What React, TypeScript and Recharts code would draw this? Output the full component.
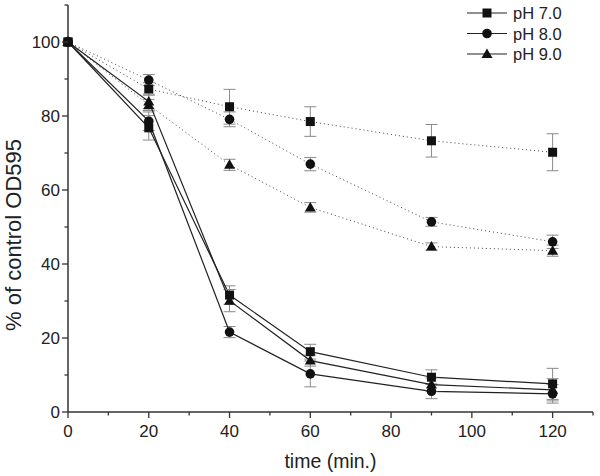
import React from 'react';
import { LineChart, Line, XAxis, YAxis, ErrorBar, Legend } from 'recharts';

// time points (min.)
const times = [0, 20, 40, 60, 90, 120];

// solid lines (treated)
const ph7 = [100, 76.8, 31.6, 16.3, 9.4, 7.6];
const ph7Err = [0, 3.3, 2.5, 2.0, 2.0, 4.2];
const ph8 = [100, 78.6, 21.6, 10.3, 5.6, 4.9];
const ph8Err = [0, 2.5, 1.5, 3.5, 2.0, 2.5];
const ph9 = [100, 83.9, 30.1, 13.9, 7.4, 6.0];
const ph9Err = [0, 2.0, 3.0, 1.5, 1.8, 3.0];

// dotted lines (control)
const ph7c = [100, 87.3, 82.5, 78.5, 73.3, 70.2];
const ph7cErr = [0, 1.7, 4.7, 4.0, 4.4, 5.0];
const ph8c = [100, 89.7, 79.1, 67.0, 51.4, 46.0];
const ph8cErr = [0, 1.5, 2.0, 1.8, 1.2, 1.8];
const ph9c = [100, 83.0, 66.8, 55.3, 44.7, 43.6];
const ph9cErr = [0, 1.5, 1.5, 1.3, 1.0, 1.5];

const xTicks = [0, 10, 20, 30, 40, 50, 60, 70, 80, 90, 100, 110, 120, 130];
const yTicks = [0, 10, 20, 30, 40, 50, 60, 70, 80, 90, 100, 110];
const legendLabels = ['pH 7.0', 'pH 8.0', 'pH 9.0'];
const xTitle = 'time (min.)';
const yTitle = '% of control OD595';

const data = times.map((t, i) => ({
  t,
  ph7: ph7[i], ph7Err: ph7Err[i],
  ph8: ph8[i], ph8Err: ph8Err[i],
  ph9: ph9[i], ph9Err: ph9Err[i],
  ph7c: ph7c[i], ph7cErr: ph7cErr[i],
  ph8c: ph8c[i], ph8cErr: ph8cErr[i],
  ph9c: ph9c[i], ph9cErr: ph9cErr[i],
}));

const FONT = '"Liberation Sans", Arial, sans-serif';
const AX = '#333';
const MARK = '#111';

type Shape = 'square' | 'circle' | 'triangle';

const Marker = ({ cx, cy, shape }: { cx: number; cy: number; shape: Shape }) => {
  if (cx == null || cy == null) return null;
  if (shape === 'square') return <rect x={cx - 4.5} y={cy - 4.5} width={9} height={9} fill={MARK} />;
  if (shape === 'circle') return <circle cx={cx} cy={cy} r={4.8} fill={MARK} />;
  return <polygon points={`${cx},${cy - 5.5} ${cx - 5.5},${cy + 4} ${cx + 5.5},${cy + 4}`} fill={MARK} />;
};

const dotFor = (shape: Shape) => (props: any) => (
  <Marker key={`${shape}-${props.index}`} cx={props.cx} cy={props.cy} shape={shape} />
);

const XTick = (props: any) => {
  const { x, y, payload } = props;
  const major = payload.value % 20 === 0;
  return (
    <g>
      <line x1={x} y1={y} x2={x} y2={y + (major ? 6 : 3.5)} stroke={AX} strokeWidth={1.3} />
      {major && payload.value <= 120 && (
        <text x={x} y={y + 25} textAnchor="middle" fontSize={17} fontFamily={FONT} fill="#222">
          {payload.value}
        </text>
      )}
    </g>
  );
};

const YTick = (props: any) => {
  const { x, y, payload } = props;
  const major = payload.value % 20 === 0;
  return (
    <g>
      <line x1={x} y1={y} x2={x - (major ? 6 : 3.5)} y2={y} stroke={AX} strokeWidth={1.3} />
      {major && (
        <text x={x - 8} y={y + 6} textAnchor="end" fontSize={17} fontFamily={FONT} fill="#222">
          {payload.value}
        </text>
      )}
    </g>
  );
};

const YTitle = () => (
  <text transform="translate(21,235) rotate(-90)" textAnchor="middle" fontSize={22} fontFamily={FONT} fill="#222">
    {yTitle}
  </text>
);

const shapes: Shape[] = ['square', 'circle', 'triangle'];

const LegendContent = () => (
  <svg width={140} height={66}>
    {legendLabels.map((label, i) => {
      const y = 13 + i * 20.5;
      return (
        <g key={label}>
          <line x1={7} y1={y} x2={47} y2={y} stroke="#222" strokeWidth={1.2} />
          <Marker cx={27} cy={y} shape={shapes[i]} />
          <text x={53} y={y + 6} fontSize={16.5} fontFamily={FONT} fill="#222">
            {label}
          </text>
        </g>
      );
    })}
  </svg>
);

const errProps = { width: 6, stroke: '#8a8a8a', strokeWidth: 1, direction: 'y' as const, isAnimationActive: false };

export default function App() {
  return (
    <div style={{ position: 'absolute', left: 0, top: 0, width: 600, height: 476, background: '#fff' }}>
      <LineChart width={600} height={476} data={data} margin={{ top: 5, right: 7, bottom: 0, left: 0 }}>
        <XAxis
          dataKey="t"
          type="number"
          domain={[0, 130]}
          ticks={xTicks}
          interval={0}
          height={64}
          tickLine={false}
          tickSize={0}
          tickMargin={0}
          tick={<XTick />}
          axisLine={{ stroke: AX, strokeWidth: 1.5 }}
          label={{ value: xTitle, position: 'insideBottom', offset: 8, style: { fontSize: 19.5, fontFamily: FONT, fill: '#222' } }}
        />
        <YAxis
          type="number"
          domain={[0, 110]}
          ticks={yTicks}
          interval={0}
          width={68}
          tickLine={false}
          tickSize={0}
          tickMargin={0}
          tick={<YTick />}
          axisLine={{ stroke: AX, strokeWidth: 1.5 }}
          label={{ value: yTitle, content: <YTitle /> }}
        />
        <Legend layout="vertical" align="center" verticalAlign="middle" content={<LegendContent />}
          wrapperStyle={{ position: 'absolute', left: 460, top: 0, width: 140, height: 66 }} />
        <Line dataKey="ph7c" stroke="#444" strokeWidth={1} strokeDasharray="1 3" dot={dotFor('square')} isAnimationActive={false} legendType="none">
          <ErrorBar dataKey="ph7cErr" {...errProps} />
        </Line>
        <Line dataKey="ph8c" stroke="#444" strokeWidth={1} strokeDasharray="1 3" dot={dotFor('circle')} isAnimationActive={false} legendType="none">
          <ErrorBar dataKey="ph8cErr" {...errProps} />
        </Line>
        <Line dataKey="ph9c" stroke="#444" strokeWidth={1} strokeDasharray="1 3" dot={dotFor('triangle')} isAnimationActive={false} legendType="none">
          <ErrorBar dataKey="ph9cErr" {...errProps} />
        </Line>
        <Line dataKey="ph7" stroke="#222" strokeWidth={1.2} dot={dotFor('square')} isAnimationActive={false}>
          <ErrorBar dataKey="ph7Err" {...errProps} />
        </Line>
        <Line dataKey="ph8" stroke="#222" strokeWidth={1.2} dot={dotFor('circle')} isAnimationActive={false}>
          <ErrorBar dataKey="ph8Err" {...errProps} />
        </Line>
        <Line dataKey="ph9" stroke="#222" strokeWidth={1.2} dot={dotFor('triangle')} isAnimationActive={false}>
          <ErrorBar dataKey="ph9Err" {...errProps} />
        </Line>
      </LineChart>
    </div>
  );
}
